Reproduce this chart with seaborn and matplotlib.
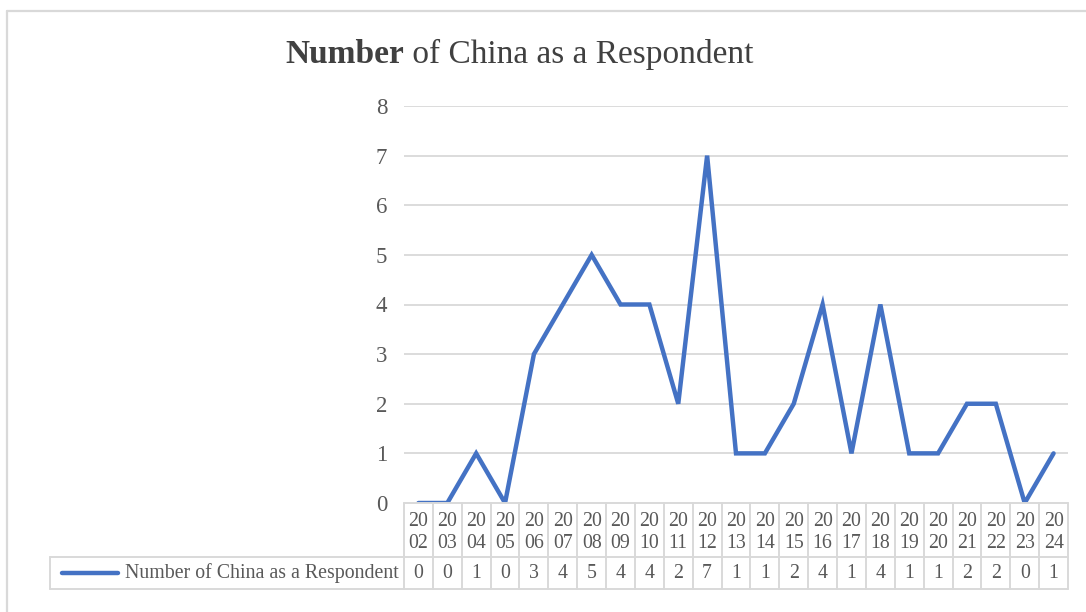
import numpy as np
import pandas as pd
import matplotlib.pyplot as plt
import seaborn as sns
from matplotlib.lines import Line2D

years = ["2002", "2003", "2004", "2005", "2006", "2007", "2008", "2009", "2010",
         "2011", "2012", "2013", "2014", "2015", "2016", "2017", "2018", "2019",
         "2020", "2021", "2022", "2023", "2024"]
counts = [0, 0, 1, 0, 3, 4, 5, 4, 4, 2, 7, 1, 1, 2, 4, 1, 4, 1, 1, 2, 2, 0, 1]
series_name = "Number of China as a Respondent"
y_ticks = [0, 1, 2, 3, 4, 5, 6, 7, 8]

df = pd.DataFrame({"pos": np.arange(len(years)), "year": years, "count": counts})

sns.set_style("white")
plt.rcParams['font.family'] = ['Liberation Serif', 'DejaVu Serif']

W, H = 1086, 612
blue = "#4472C4"
grid_c = "#D9D9D9"
txt_c = "#595959"

fig = plt.figure(figsize=(W / 100, H / 100), dpi=100)

def fx(px):
    return px / W

def fy(py):
    return 1 - py / H

# outer chart border (cropped on right and bottom)
fig.add_artist(Line2D([fx(7), fx(7)], [fy(11), 0], color=grid_c, lw=1.6,
                      transform=fig.transFigure))
fig.add_artist(Line2D([fx(7), 1], [fy(11), fy(11)], color=grid_c, lw=1.6,
                      transform=fig.transFigure))

# plot area
L, R, T, B = 404, 1068, 106, 503
ax = fig.add_axes([fx(L), fy(B), fx(R - L), (B - T) / H])
sns.lineplot(data=df, x="pos", y="count", ax=ax, color=blue, lw=3.2,
             solid_joinstyle="miter")
ax.set_xlim(-0.5, len(years) - 0.5)
ax.set_ylim(0, 8)
ax.set_yticks(y_ticks)
ax.set_yticklabels([str(t) for t in y_ticks], fontsize=16.5, color=txt_c)
ax.set_xticks([])
ax.set_xlabel("")
ax.set_ylabel("")
ax.tick_params(axis="y", length=0, pad=12)
for t in y_ticks[1:]:
    ax.axhline(t, color=grid_c, lw=1.3, zorder=0)
for s in ax.spines.values():
    s.set_visible(False)

# data table below the plot
TB = 589
tax = fig.add_axes([fx(L), fy(TB), fx(R - L), (TB - B) / H])
tax.set_xlim(-0.5, len(years) - 0.5)
tax.set_ylim(TB - B, 0)
tax.axis("off")
row_split = 557 - B
n = len(years)
unit = (R - L) / n
lw_t = 1.4
fs_t = 14.3
legend_left = (50 - L) / unit - 0.5
tax.plot([-0.5, n - 0.5], [0, 0], color=grid_c, lw=lw_t, clip_on=False)
tax.plot([legend_left, n - 0.5], [row_split, row_split], color=grid_c, lw=lw_t, clip_on=False)
tax.plot([legend_left, n - 0.5], [TB - B, TB - B], color=grid_c, lw=lw_t, clip_on=False)
tax.plot([legend_left, legend_left], [row_split, TB - B], color=grid_c, lw=lw_t, clip_on=False)
for i in range(n + 1):
    tax.plot([i - 0.5, i - 0.5], [0, TB - B], color=grid_c, lw=lw_t, clip_on=False)
for i, (yr, c) in enumerate(zip(years, counts)):
    tax.text(i, 19, yr[:2], ha="center", va="center", fontsize=fs_t, color=txt_c)
    tax.text(i, 40, yr[2:], ha="center", va="center", fontsize=fs_t, color=txt_c)
    tax.text(i, (row_split + TB - B) / 2, str(c), ha="center", va="center",
             fontsize=fs_t, color=txt_c)

# legend key inside the table
key_y = (row_split + TB - B) / 2
tax.plot([(62 - L) / unit - 0.5, (118 - L) / unit - 0.5], [key_y, key_y],
         color=blue, lw=3.2, clip_on=False, solid_capstyle="round")
tax.text((125 - L) / unit - 0.5, key_y, series_name, ha="left", va="center",
         fontsize=fs_t, color=txt_c, clip_on=False)

# title with bold first word
t1 = fig.text(fx(285), fy(70), "Number", fontsize=24, weight="bold",
              color="#404040", ha="left", va="bottom")
ax.annotate(" of China as a Respondent", xy=(1, 0), xycoords=t1,
            fontsize=24, color="#404040", ha="left", va="bottom",
            annotation_clip=False)

fig.savefig("out.png", dpi=100)
